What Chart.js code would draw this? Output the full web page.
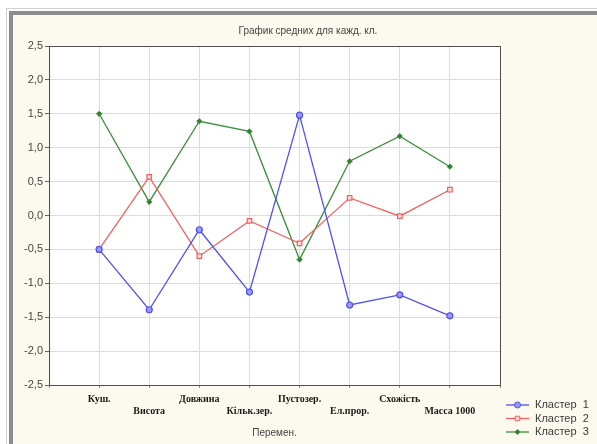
<!DOCTYPE html>
<html>
<head>
<meta charset="utf-8">
<script src="https://cdn.jsdelivr.net/npm/chart.js@4.4.1/dist/chart.umd.min.js"></script>
<style>
  html, body { margin: 0; padding: 0; background: #ffffff; }
  #wrap { position: relative; width: 597px; height: 444px; overflow: hidden; }
  #outer { position: absolute; left: 6px; top: 8px; right: -10px; bottom: -10px; border-top: 1px solid #d0d0d0; border-left: 1px solid #d0d0d0; }
  #frame { position: absolute; left: 9px; top: 11px; right: -10px; bottom: -10px; border-top: 4px solid #8c8c8c; border-left: 4px solid #8c8c8c; background: #fcf9ee; }
  canvas { position: absolute; left: 0; top: 0; }
</style>
</head>
<body>
<div id="wrap">
  <div id="outer"></div>
  <div id="frame"></div>
  <canvas id="chart" width="597" height="444"></canvas>
</div>
<script>
// Змінні (категорії по осі X)
const categories = ['Куш.', 'Висота', 'Довжина', 'Кільк.зер.', 'Пустозер.', 'Ел.прор.', 'Схожість', 'Масса 1000'];

// Середні значення по кластерах
const cluster1 = [-0.50, -1.39, -0.21, -1.13, 1.48, -1.32, -1.17, -1.48];
const cluster2 = [-0.50, 0.57, -0.60, -0.08, -0.41, 0.26, -0.01, 0.38];
const cluster3 = [1.50, 0.20, 1.39, 1.24, -0.65, 0.80, 1.17, 0.72];

const seriesNames = ['Кластер  1', 'Кластер  2', 'Кластер  3'];
const yTicks = [-2.5, -2.0, -1.5, -1.0, -0.5, 0.0, 0.5, 1.0, 1.5, 2.0, 2.5];
const chartTitle = 'График средних для кажд. кл.';

function toPoints(values) {
    return values.map((v, i) => ({ x: i + 1, y: v }));
}

// фон області графіка + рамка + заголовок
const plotBox = {
    id: 'plotBox',
    beforeDraw(chart) {
        const { ctx, chartArea: a } = chart;
        ctx.save();
        ctx.fillStyle = '#ffffff';
        ctx.fillRect(a.left, a.top, a.right - a.left, a.bottom - a.top);
        ctx.restore();
    },
    afterDatasetsDraw(chart) {
        const { ctx, chartArea: a } = chart;
        ctx.save();
        ctx.strokeStyle = '#505050';
        ctx.lineWidth = 1;
        ctx.strokeRect(a.left + 0.5, a.top + 0.5, a.right - a.left, a.bottom - a.top);
        ctx.font = '10px "Liberation Sans", Arial, sans-serif';
        ctx.fillStyle = '#444444';
        ctx.textAlign = 'center';
        ctx.textBaseline = 'middle';
        ctx.fillText(chartTitle, 308, 31);
        ctx.restore();
    }
};

// легенда (лінія + маркер)
const lineLegend = {
    id: 'lineLegend',
    afterDraw(chart) {
        const ctx = chart.ctx;
        ctx.save();
        chart.data.datasets.forEach((ds, i) => {
            const y = 405 + i * 13.5;
            ctx.strokeStyle = ds.borderColor;
            ctx.lineWidth = 1.3;
            ctx.beginPath();
            ctx.moveTo(506, y);
            ctx.lineTo(529, y);
            ctx.stroke();
            ctx.fillStyle = ds.pointBackgroundColor;
            ctx.strokeStyle = ds.borderColor;
            ctx.lineWidth = 1;
            Chart.helpers.drawPoint(ctx, {
                pointStyle: ds.pointStyle,
                radius: ds.pointRadius,
                borderWidth: 1
            }, 517.5, y);
            ctx.font = '11px "Liberation Sans", Arial, sans-serif';
            ctx.fillStyle = '#3a3a3a';
            ctx.textBaseline = 'middle';
            ctx.fillText(ds.label, 535, y);
        });
        ctx.restore();
    }
};

const ctx = document.getElementById('chart').getContext('2d');
new Chart(ctx, {
    type: 'line',
    data: {
        datasets: [
            {
                label: seriesNames[0],
                data: toPoints(cluster1),
                borderColor: '#5050f0',
                backgroundColor: '#9a9af8',
                pointBackgroundColor: '#9a9af8',
                pointStyle: 'circle',
                pointRadius: 3,
                pointBorderWidth: 1.2,
                borderWidth: 1.3,
                tension: 0
            },
            {
                label: seriesNames[1],
                data: toPoints(cluster2),
                borderColor: '#f26060',
                backgroundColor: '#ffe0e0',
                pointBackgroundColor: '#ffe0e0',
                pointStyle: 'rect',
                pointRadius: 3.2,
                pointBorderWidth: 1.2,
                borderWidth: 1.3,
                tension: 0
            },
            {
                label: seriesNames[2],
                data: toPoints(cluster3),
                borderColor: '#3a8f3a',
                backgroundColor: '#2f7f2f',
                pointBackgroundColor: '#2f7f2f',
                pointStyle: 'rectRot',
                pointRadius: 2.6,
                pointBorderWidth: 1,
                borderWidth: 1.3,
                tension: 0
            }
        ]
    },
    options: {
        responsive: false,
        animation: false,
        layout: { padding: { left: 0, right: 97, top: 46, bottom: 5 } },
        plugins: {
            legend: { display: false },
            tooltip: { enabled: false },
            title: { display: false }
        },
        scales: {
            x: {
                type: 'linear',
                min: 0,
                max: categories.length + 1,
                afterBuildTicks(scale) {
                    scale.ticks = [];
                    for (let i = 0; i <= categories.length + 1; i++) scale.ticks.push({ value: i });
                },
                afterFit(scale) { scale.height = 54; },
                border: { display: false },
                grid: { color: '#dcdcdc', lineWidth: 1, tickLength: 3, tickColor: '#888888' },
                ticks: {
                    color: '#1a1a1a',
                    padding: 5,
                    maxRotation: 0,
                    autoSkip: false,
                    font: { family: '"Liberation Serif", "Times New Roman", serif', size: 10, weight: 'bold', lineHeight: 1.25 },
                    callback(value) {
                        const name = categories[value - 1];
                        if (!name) return '';
                        return (value % 2 === 1) ? [name, ''] : ['', name];
                    }
                },
                title: {
                    display: true,
                    text: 'Перемен.',
                    color: '#444444',
                    font: { family: '"Liberation Sans", Arial, sans-serif', size: 10 },
                    padding: { top: 2, bottom: 0 }
                }
            },
            y: {
                min: yTicks[0],
                max: yTicks[yTicks.length - 1],
                afterBuildTicks(scale) {
                    scale.ticks = yTicks.map(v => ({ value: v }));
                },
                afterFit(scale) { scale.width = 49; },
                border: { display: false },
                grid: { color: '#dcdcdc', lineWidth: 1, tickLength: 4, tickColor: '#666666' },
                ticks: {
                    color: '#444444',
                    padding: 2,
                    font: { family: '"Liberation Sans", Arial, sans-serif', size: 11 },
                    callback(value) {
                        return value.toFixed(1).replace('.', ',');
                    }
                }
            }
        }
    },
    plugins: [plotBox, lineLegend]
});
</script>
</body>
</html>
